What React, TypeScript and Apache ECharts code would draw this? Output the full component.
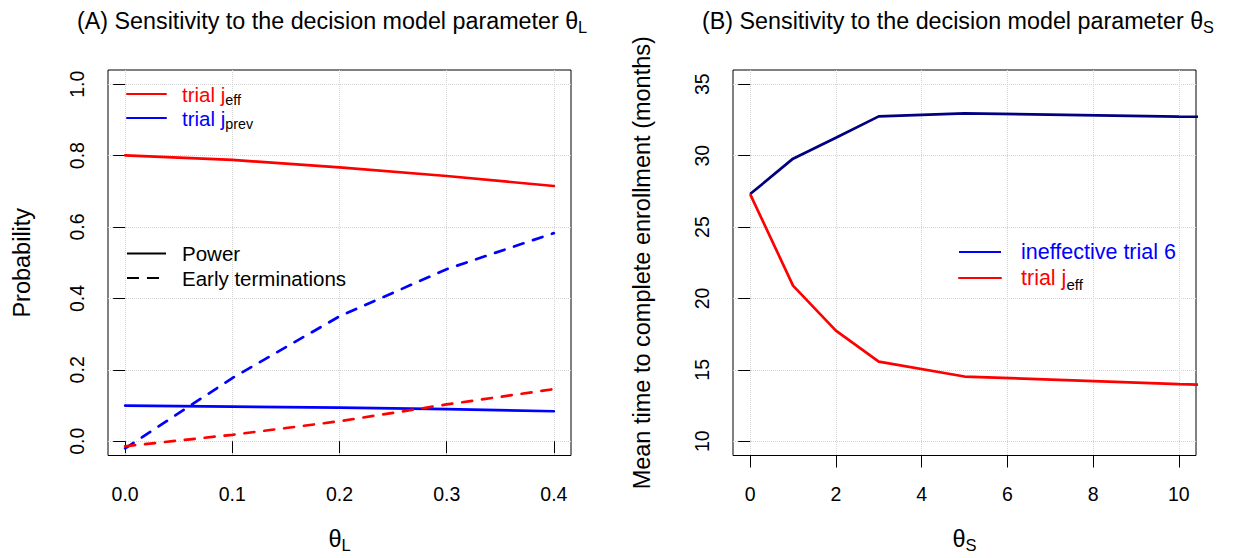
import React, { useEffect, useRef } from "react";
import * as echarts from "echarts";

// ---- Data ----
const thetaL = [0, 0.1, 0.2, 0.3, 0.4];
const powerEff = [0.801, 0.788, 0.767, 0.743, 0.715];
const powerPrev = [0.1, 0.097, 0.094, 0.09, 0.084];
const earlyPrev = [-0.02, 0.177, 0.35, 0.482, 0.583];
const earlyEff = [-0.014, 0.018, 0.056, 0.103, 0.146];

const thetaS = [0, 1, 2, 3, 5, 10, 20];
const timeIneff = [27.31, 29.79, 31.25, 32.75, 32.96, 32.74, 32.4];
const timeEff = [27.31, 20.9, 17.75, 15.58, 14.53, 14.0, 13.2];

const xTicksL = [0, 0.1, 0.2, 0.3, 0.4];
const yTicksL = [0, 0.2, 0.4, 0.6, 0.8, 1.0];
const xTicksR = [0, 2, 4, 6, 8, 10];
const yTicksR = [10, 15, 20, 25, 30, 35];

const FONT = "'Liberation Sans', Arial, Helvetica, sans-serif";
const TICK_FS = 19.5;
const LAB_FS = 23.5;
const TITLE_FS = 23.3;
const LEG_FS = 20.5;

const pairs = (xs: number[], ys: number[]) => xs.map((x, i) => [x, ys[i]]);

const subRich = (fs: number, pad: number) => ({
  s: { fontSize: fs, padding: [pad, 0, 0, 0], lineHeight: fs + 4, fontFamily: FONT },
});

const legendName = (n: string) => {
  if (n === "trial j_eff") return "trial j{s|eff}";
  if (n === "trial j_prev") return "trial j{s|prev}";
  return n;
};

const gridLine = { show: true, lineStyle: { color: "#d3d3d3", type: "dotted", width: 1 } };
const tick = (vals: number[]) => ({ show: true, inside: false, length: 12, customValues: vals, lineStyle: { color: "#000", width: 1 } });
const noSymbol = { opacity: 0, borderWidth: 0 };

export default function App() {
  const ref = useRef<HTMLDivElement>(null);
  useEffect(() => {
    if (!ref.current) return;
    const chart = echarts.init(ref.current, null, { renderer: "svg" });
    const lw = 2.7;
    const dash = [10, 10];
    const titleStyle = { fontSize: TITLE_FS, fontWeight: "normal", color: "#000", fontFamily: FONT, rich: subRich(16.3, 12) };
    const option: any = {
      animation: false,
      backgroundColor: "#fff",
      textStyle: { fontFamily: FONT, color: "#000" },
      title: [
        { text: "(A) Sensitivity to the decision model parameter θ{s|L}", left: 72, top: 4, textStyle: titleStyle },
        { text: "(B) Sensitivity to the decision model parameter θ{s|S}", left: 697, top: 4, textStyle: titleStyle },
      ],
      grid: [
        { left: 108, top: 70, width: 463, height: 388, show: true, borderColor: "#000", borderWidth: 1, backgroundColor: "transparent" },
        { left: 733, top: 70, width: 463, height: 388, show: true, borderColor: "#000", borderWidth: 1, backgroundColor: "transparent" },
      ],
      xAxis: [
        {
          type: "value",
          gridIndex: 0,
          min: -0.016,
          max: 0.416,
          axisLine: { show: false },
          axisTick: tick(xTicksL),
          axisLabel: { customValues: xTicksL, margin: 28, fontSize: TICK_FS, color: "#000", fontFamily: FONT, formatter: (v: number) => v.toFixed(1) },
          splitLine: gridLine,
          name: "θ{s|L}",
          nameLocation: "middle",
          nameGap: 71,
          nameTextStyle: { fontSize: LAB_FS, color: "#000", fontFamily: FONT, rich: subRich(16.5, 12) },
        },
        {
          type: "value",
          gridIndex: 1,
          min: -0.4,
          max: 10.4,
          axisLine: { show: false },
          axisTick: tick(xTicksR),
          axisLabel: { customValues: xTicksR, margin: 28, fontSize: TICK_FS, color: "#000", fontFamily: FONT, formatter: (v: number) => String(v) },
          splitLine: gridLine,
          name: "θ{s|S}",
          nameLocation: "middle",
          nameGap: 71,
          nameTextStyle: { fontSize: LAB_FS, color: "#000", fontFamily: FONT, rich: subRich(16.5, 12) },
        },
      ],
      yAxis: [
        {
          type: "value",
          gridIndex: 0,
          min: -0.04,
          max: 1.04,
          axisLine: { show: false },
          axisTick: tick(yTicksL),
          axisLabel: { customValues: yTicksL, rotate: 90, margin: 21, fontSize: TICK_FS, color: "#000", fontFamily: FONT, formatter: (v: number) => v.toFixed(1) },
          splitLine: gridLine,
          name: "Probability",
          nameLocation: "middle",
          nameGap: 74,
          nameTextStyle: { fontSize: LAB_FS, color: "#000", fontFamily: FONT },
        },
        {
          type: "value",
          gridIndex: 1,
          min: 9,
          max: 36,
          axisLine: { show: false },
          axisTick: tick(yTicksR),
          axisLabel: { customValues: yTicksR, rotate: 90, margin: 21, fontSize: TICK_FS, color: "#000", fontFamily: FONT, formatter: (v: number) => String(v) },
          splitLine: gridLine,
          name: "Mean time to complete enrollment (months)",
          nameLocation: "middle",
          nameGap: 79,
          nameTextStyle: { fontSize: LAB_FS, color: "#000", fontFamily: FONT },
        },
      ],
      legend: [
        {
          left: 126,
          top: 81,
          padding: 0,
          orient: "vertical",
          selectedMode: false,
          itemWidth: 39,
          itemHeight: 14,
          itemGap: -2,
          itemStyle: noSymbol,
          formatter: legendName,
          textStyle: { fontSize: LEG_FS, fontFamily: FONT, padding: [0, 0, 0, 11], rich: subRich(14.3, 12) },
          data: [
            { name: "trial j_eff", textStyle: { color: "#ff0000" } },
            { name: "trial j_prev", textStyle: { color: "#0000ff" } },
          ],
        },
        {
          left: 126,
          top: 243,
          padding: 0,
          orient: "vertical",
          selectedMode: false,
          itemWidth: 39,
          itemHeight: 14,
          itemGap: 3.5,
          itemStyle: noSymbol,
          textStyle: { fontSize: LEG_FS, fontFamily: FONT, color: "#000", padding: [0, 0, 0, 11] },
          data: [{ name: "Power" }, { name: "Early terminations" }],
        },
        {
          left: 958,
          top: 241,
          padding: 0,
          orient: "vertical",
          selectedMode: false,
          itemWidth: 42,
          itemHeight: 14,
          itemGap: 1.5,
          itemStyle: noSymbol,
          formatter: legendName,
          textStyle: { fontSize: 21.5, fontFamily: FONT, padding: [0, 0, 0, 15], rich: subRich(15, 12) },
          data: [
            { name: "ineffective trial 6", textStyle: { color: "#0000ff" }, lineStyle: { color: "#0000ff" } },
            { name: "trial j_eff", textStyle: { color: "#ff0000" } },
          ],
        },
      ],
      series: [
        {
          name: "trial j_eff", type: "line", xAxisIndex: 0, yAxisIndex: 0, symbol: "none", color: "#ff0000",
          lineStyle: { width: lw, color: "#ff0000", cap: "round" }, data: pairs(thetaL, powerEff),
        },
        {
          name: "trial j_prev", type: "line", xAxisIndex: 0, yAxisIndex: 0, symbol: "none", color: "#0000ff",
          lineStyle: { width: lw, color: "#0000ff", cap: "round" }, data: pairs(thetaL, powerPrev),
        },
        {
          name: "trial j_prev early", type: "line", xAxisIndex: 0, yAxisIndex: 0, symbol: "none", color: "#0000ff",
          lineStyle: { width: lw, color: "#0000ff", type: dash, cap: "round" }, data: pairs(thetaL, earlyPrev),
        },
        {
          name: "trial j_eff early", type: "line", xAxisIndex: 0, yAxisIndex: 0, symbol: "none", color: "#ff0000",
          lineStyle: { width: lw, color: "#ff0000", type: dash, cap: "round" }, data: pairs(thetaL, earlyEff),
        },
        {
          name: "Power", type: "line", xAxisIndex: 0, yAxisIndex: 0, symbol: "none", color: "#000",
          lineStyle: { width: lw, color: "#000" }, data: [],
        },
        {
          name: "Early terminations", type: "line", xAxisIndex: 0, yAxisIndex: 0, symbol: "none", color: "#000",
          lineStyle: { width: lw, color: "#000", type: [12, 8] }, data: [],
        },
        {
          name: "ineffective trial 6", type: "line", xAxisIndex: 1, yAxisIndex: 1, symbol: "none", color: "#000080",
          lineStyle: { width: lw, color: "#000080" }, data: pairs(thetaS, timeIneff),
        },
        {
          name: "trial j_eff", type: "line", xAxisIndex: 1, yAxisIndex: 1, symbol: "none", color: "#ff0000",
          lineStyle: { width: lw, color: "#ff0000" }, data: pairs(thetaS, timeEff),
        },
      ],
    };
    chart.setOption(option);
    return () => chart.dispose();
  }, []);
  return <div ref={ref} style={{ position: "absolute", left: 0, top: 0, width: 1235, height: 558 }} />;
}
